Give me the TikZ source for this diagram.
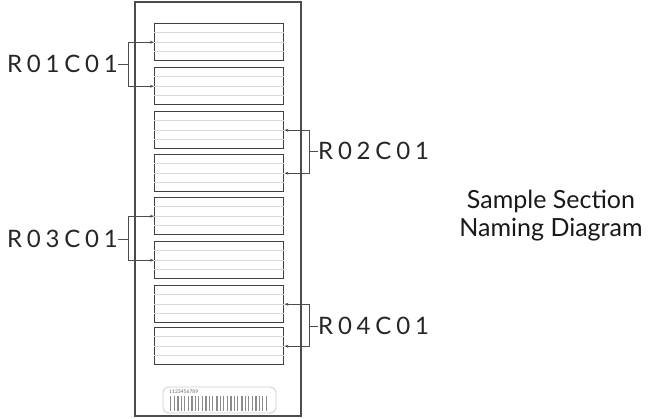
\documentclass[tikz,border=0pt]{standalone}
\usepackage{fontspec}
\setmainfont{Lato}
\newfontfamily\codefont[LetterSpace=20]{Lato}
\usetikzlibrary{calc}
\usetikzlibrary{positioning}
\usetikzlibrary{arrows.meta}

\begin{document}
\begin{tikzpicture}[x=1pt,y=-1pt,
    section/.style={draw=black!75,line width=1.4pt,minimum width=129pt,minimum height=37pt,inner sep=0pt,anchor=north west},
    code/.style={font=\codefont\fontsize{24}{24}\selectfont,inner sep=0pt,text=black!85},
    bracket/.style={draw=black!70,line width=0.7pt},
    pointer/.style={bracket,-{Stealth[length=4pt,width=3pt]}}]
    \useasboundingbox (0,0) rectangle (659,418);

    % slide
    \draw[black!70,line width=1.5pt] (135,2) rectangle (301,416);

    % sections with ruled lines
    \foreach \i/\y in {1/23,2/67,3/111,4/154,5/197,6/241,7/285,8/327}{
        \node[section] (s\i) at (154,\y) {};
        \foreach \f in {0.25,0.5,0.75}
            \draw[black!15,line width=0.8pt] ($(s\i.north west)!\f!(s\i.south west)$) -- ($(s\i.north east)!\f!(s\i.south east)$);
    }

    % label
    \draw[black!20,line width=0.8pt,rounded corners=6pt] (163,387) rectangle (276,413);
    \node[font=\fontsize{5}{5}\selectfont,text=black!60,anchor=west,inner sep=0pt] (num) at (169,392) {1123456789};
    \foreach \x/\w in {170/1.2,174/0.8,177/1.5,181/0.8,184/1.2,188/0.6,191/1.5,195/0.8,198/1.2,202/0.6,205/1.5,209/0.8,212/1.2,216/1.5,220/0.8,223/1.2,227/0.6,230/1.5,234/0.8,237/1.2,241/1.5,245/0.6,248/1.2,252/0.8,255/1.5,259/0.8,262/1.2,266/0.8}
        \fill[black!45] (\x,396) rectangle (\x+\w,411);

    % left codes
    \coordinate (k1) at (128,64);
    \coordinate (k3) at (128,239);
    \node[code,anchor=east] (c1) at (118,64) {R01C01};
    \node[code,anchor=east] (c3) at (118,239) {R03C01};
    \draw[bracket] (c1.east) -- (k1);
    \draw[pointer] (k1) |- (s1.west);
    \draw[pointer] (k1) |- (s2.west);
    \draw[bracket] (c3.east) -- (k3);
    \draw[pointer] (k3) |- (s5.west);
    \draw[pointer] (k3) |- (s6.west);

    % right codes
    \coordinate (k2) at (309,151);
    \coordinate (k4) at (309,326);
    \node[code,anchor=west] (c2) at (318,151) {R02C01};
    \node[code,anchor=west] (c4) at (318,326) {R04C01};
    \draw[bracket] (c2.west) -- (k2);
    \draw[pointer] (k2) |- (s3.east);
    \draw[pointer] (k2) |- (s4.east);
    \draw[bracket] (c4.west) -- (k4);
    \draw[pointer] (k4) |- (s7.east);
    \draw[pointer] (k4) |- (s8.east);

    \node[align=center,font=\fontsize{25}{28}\selectfont,text=black!90] (title) at (551,216) {Sample Section\\Naming Diagram};
\end{tikzpicture}
\end{document}
